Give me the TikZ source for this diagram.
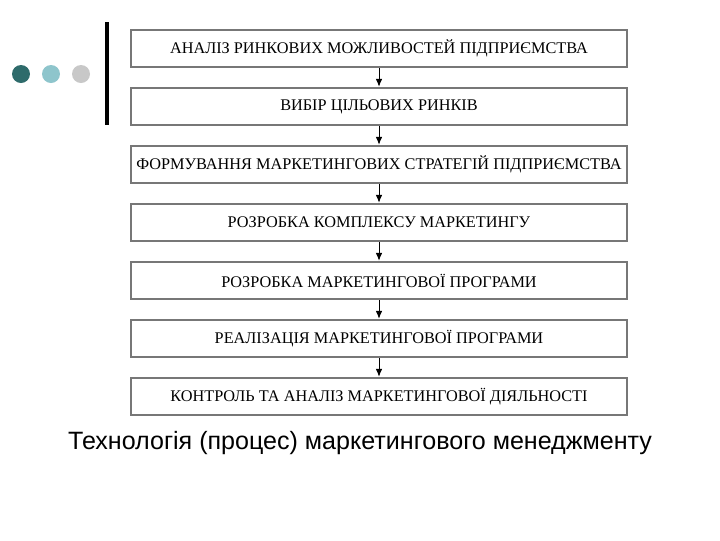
\documentclass[tikz,border=0pt]{standalone}
\usetikzlibrary{arrows.meta}
\usepackage{fontspec}
\setmainfont{Liberation Serif}
\newfontfamily\capfont{Liberation Sans}
\definecolor{dk}{HTML}{2E6B6B}
\definecolor{lb}{HTML}{8EC5CC}
\definecolor{gr}{HTML}{C8C8C8}
\definecolor{bd}{HTML}{777777}
\begin{document}
\begin{tikzpicture}[x=0.75pt,y=-0.75pt,
  stepbox/.style={draw=bd,line width=1.6pt,minimum width=372pt,minimum height=28pt,inner sep=0pt,font=\fontsize{12.2}{14}\selectfont},
  arr/.style={-{Latex[length=6pt,width=5pt]},line width=0.7pt}]
\useasboundingbox (0,0) rectangle (720,540);
\fill[dk] (21,74) circle (9);
\fill[lb] (51,74) circle (9);
\fill[gr] (81,74) circle (9);
\draw[line width=2.4pt] (107,22) -- (107,125);
\foreach \i/\t in {1/АНАЛІЗ РИНКОВИХ МОЖЛИВОСТЕЙ ПІДПРИЄМСТВА,2/ВИБІР ЦІЛЬОВИХ РИНКІВ,3/ФОРМУВАННЯ МАРКЕТИНГОВИХ СТРАТЕГІЙ ПІДПРИЄМСТВА,4/РОЗРОБКА КОМПЛЕКСУ МАРКЕТИНГУ,5/РОЗРОБКА МАРКЕТИНГОВОЇ ПРОГРАМИ,6/РЕАЛІЗАЦІЯ МАРКЕТИНГОВОЇ ПРОГРАМИ,7/КОНТРОЛЬ ТА АНАЛІЗ МАРКЕТИНГОВОЇ ДІЯЛЬНОСТІ}
  \node[stepbox] (b\i) at (379,{48.5+58*(\i-1)}) {\t};
\foreach \i [evaluate=\i as \j using int(\i+1)] in {1,...,6}
  \draw[arr] (b\i) -- (b\j);
\node[font=\capfont\fontsize{18.8}{22}\selectfont] (cap) at (360,443) {Технологія (процес) маркетингового менеджменту};
\end{tikzpicture}
\end{document}
